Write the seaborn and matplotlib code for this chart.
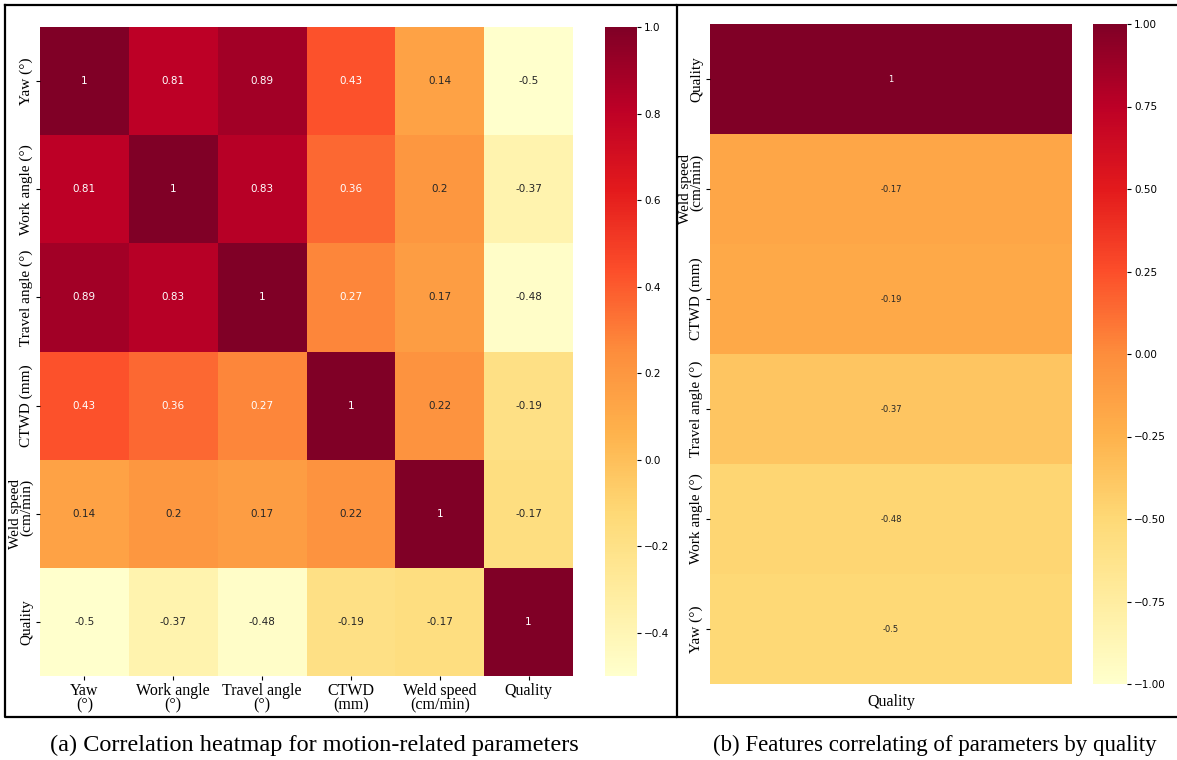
import numpy as np
import pandas as pd
import matplotlib
matplotlib.use("Agg")
import matplotlib.pyplot as plt
from matplotlib.lines import Line2D
import seaborn as sns

# Correlation matrix of motion-related parameters
param_rows = ["Yaw (°)", "Work angle (°)", "Travel angle (°)", "CTWD (mm)",
              "Weld speed\n(cm/min)", "Quality"]
param_cols = ["Yaw\n(°)", "Work angle\n(°)", "Travel angle\n(°)", "CTWD\n(mm)",
              "Weld speed\n(cm/min)", "Quality"]
yaw_row = [1, 0.81, 0.89, 0.43, 0.14, -0.5]
work_row = [0.81, 1, 0.83, 0.36, 0.2, -0.37]
travel_row = [0.89, 0.83, 1, 0.27, 0.17, -0.48]
ctwd_row = [0.43, 0.36, 0.27, 1, 0.22, -0.19]
speed_row = [0.14, 0.2, 0.17, 0.22, 1, -0.17]
quality_row = [-0.5, -0.37, -0.48, -0.19, -0.17, 1]

# Correlation of each feature with quality
quality_features = ["Quality", "Weld speed\n(cm/min)", "CTWD (mm)",
                    "Travel angle (°)", "Work angle (°)", "Yaw (°)"]
quality_corr = [1, -0.17, -0.19, -0.37, -0.48, -0.5]

corr_df = pd.DataFrame([yaw_row, work_row, travel_row, ctwd_row, speed_row, quality_row],
                       index=param_rows, columns=param_cols)
qual_df = pd.DataFrame({"Quality": quality_corr}, index=quality_features)

W, H = 1177, 760
fig = plt.figure(figsize=(W / 100, H / 100), dpi=100)
serif = ["Liberation Serif", "DejaVu Serif"]


def box(x0, y0, x1, y1):
    return [x0 / W, 1 - y1 / H, (x1 - x0) / W, (y1 - y0) / H]


ax1 = fig.add_axes(box(40, 27, 573, 676))
cax1 = fig.add_axes(box(605, 27, 637, 676))
ax2 = fig.add_axes(box(710, 24, 1072, 684))
cax2 = fig.add_axes(box(1093, 24, 1127, 684))

sns.heatmap(corr_df, ax=ax1, cbar_ax=cax1, cmap="YlOrRd", annot=True,
            annot_kws={"size": 7.5})
sns.heatmap(qual_df, ax=ax2, cbar_ax=cax2, cmap="YlOrRd", vmin=-1, vmax=1,
            annot=True, annot_kws={"size": 6})

for ax in (ax1, ax2):
    ax.tick_params(length=3, width=0.8, pad=2)
    for lab in ax.get_xticklabels():
        lab.set_fontfamily(serif)
        lab.set_fontsize(11.5)
        lab.set_rotation(0)
        lab.set_linespacing(0.85)
    for lab in ax.get_yticklabels():
        lab.set_fontfamily(serif)
        lab.set_fontsize(11)
        lab.set_rotation(90)
        lab.set_va("center")
        lab.set_linespacing(0.8)

ax1.set_xlabel("")
ax1.set_ylabel("")
ax2.set_xticks([])
ax2.set_xlabel("Quality", fontfamily=serif, fontsize=11.5, labelpad=7)

cax1.set_yticks([-0.4, -0.2, 0.0, 0.2, 0.4, 0.6, 0.8, 1.0])
cax2.set_yticks([-1.0, -0.75, -0.5, -0.25, 0.0, 0.25, 0.5, 0.75, 1.0])
for cax in (cax1, cax2):
    cax.tick_params(labelsize=7.5, length=3, width=0.8, pad=2)

# Panel frames
lw = 1.6
def line(xs, ys):
    fig.add_artist(Line2D([x / W for x in xs], [1 - y / H for y in ys],
                          color="black", lw=lw, transform=fig.transFigure))

line([5, 677, 677, 5, 5], [5, 5, 717, 717, 5])
line([677, 1177], [5, 5])
line([677, 1177], [717, 717])

fig.text(314 / W, 1 - 745 / H, "(a) Correlation heatmap for motion-related parameters",
         ha="center", va="center", fontfamily=serif, fontsize=17.5)
fig.text(935 / W, 1 - 745 / H, "(b) Features correlating of parameters by quality",
         ha="center", va="center", fontfamily=serif, fontsize=16.5)

fig.savefig("out.png", dpi=100)
